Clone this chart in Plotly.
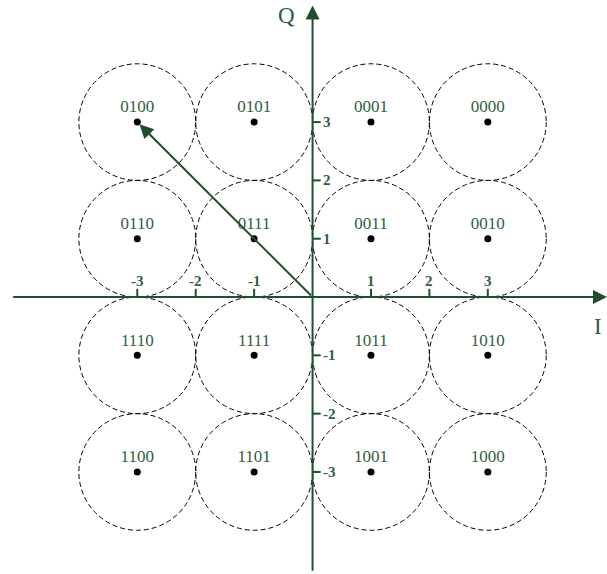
import plotly.graph_objects as go

# 16-QAM constellation (Gray-coded)
i_vals = [-3, -1, 1, 3]
q_vals = [3, 1, -1, -3]
symbol_bits = [
    ["0100", "0101", "0001", "0000"],
    ["0110", "0111", "0011", "0010"],
    ["1110", "1111", "1011", "1010"],
    ["1100", "1101", "1001", "1000"],
]
tick_values = [-3, -2, -1, 1, 2, 3]
tick_labels = ["-3", "-2", "-1", "1", "2", "3"]
decision_radius = 1.0
highlight_symbol = (-3, 3)

AXIS_GREEN = "#1f4f2e"
TEXT_GREEN = "#2f6040"
SERIF = "Liberation Serif, Times New Roman, serif"

xs, ys, texts = [], [], []
for r, q in enumerate(q_vals):
    for c, i in enumerate(i_vals):
        xs.append(i)
        ys.append(q)
        texts.append(symbol_bits[r][c])

fig = go.Figure()

shapes = []
# decision circles around every symbol
for x, y in zip(xs, ys):
    shapes.append(dict(type="circle", xref="x", yref="y",
                       x0=x - decision_radius, x1=x + decision_radius,
                       y0=y - decision_radius, y1=y + decision_radius,
                       line=dict(color="black", width=1, dash="5px,3px"),
                       layer="below"))

# tick marks on the I and Q axes
tick_len = 0.14
for t in tick_values:
    shapes.append(dict(type="line", xref="x", yref="y", x0=t, x1=t, y0=0, y1=tick_len,
                       line=dict(color=AXIS_GREEN, width=2)))
    shapes.append(dict(type="line", xref="x", yref="y", x0=0, x1=tick_len, y0=t, y1=t,
                       line=dict(color=AXIS_GREEN, width=2)))

fig.add_trace(go.Scatter(
    x=xs, y=ys, mode="markers+text", text=texts, textposition="top center",
    marker=dict(color="black", size=7),
    textfont=dict(family=SERIF, size=17, color=TEXT_GREEN),
    hoverinfo="skip", showlegend=False,
))

annotations = []
# I axis with arrowhead
annotations.append(dict(x=5.04, y=0, ax=-5.15, ay=0, xref="x", yref="y", axref="x", ayref="y",
                        text="", showarrow=True, arrowhead=2, arrowsize=1.4, arrowwidth=2,
                        arrowcolor=AXIS_GREEN))
# Q axis with arrowhead
annotations.append(dict(x=0, y=5.0, ax=0, ay=-4.72, xref="x", yref="y", axref="x", ayref="y",
                        text="", showarrow=True, arrowhead=2, arrowsize=1.4, arrowwidth=2,
                        arrowcolor=AXIS_GREEN))
# vector to the highlighted symbol
annotations.append(dict(x=highlight_symbol[0], y=highlight_symbol[1], ax=0, ay=0,
                        xref="x", yref="y", axref="x", ayref="y", text="", showarrow=True,
                        arrowhead=2, arrowsize=1.4, arrowwidth=2, standoff=3,
                        arrowcolor=AXIS_GREEN))

for t, lab in zip(tick_values, tick_labels):
    annotations.append(dict(x=t, y=0.28, xref="x", yref="y", text=f"<b>{lab}</b>",
                            showarrow=False, xanchor="center", yanchor="middle",
                            font=dict(family=SERIF, size=15, color=TEXT_GREEN)))
    annotations.append(dict(x=0.15, y=t, xref="x", yref="y", text=f"<b>{lab}</b>",
                            showarrow=False, xanchor="left", yanchor="middle",
                            font=dict(family=SERIF, size=15, color=TEXT_GREEN)))

annotations.append(dict(x=-0.44, y=4.82, xref="x", yref="y", text="Q", showarrow=False,
                        xanchor="center", yanchor="middle",
                        font=dict(family=SERIF, size=23, color=TEXT_GREEN)))
annotations.append(dict(x=4.88, y=-0.51, xref="x", yref="y", text="I", showarrow=False,
                        xanchor="center", yanchor="middle",
                        font=dict(family=SERIF, size=23, color=TEXT_GREEN)))

fig.update_layout(
    width=607, height=574,
    margin=dict(l=0, r=0, t=0, b=0),
    paper_bgcolor="white", plot_bgcolor="white",
    xaxis=dict(range=[-5.35, 5.04], visible=False, fixedrange=True),
    yaxis=dict(range=[-4.75, 5.094], visible=False, fixedrange=True),
    shapes=shapes, annotations=annotations,
    showlegend=False,
)

fig.write_html("out.html")
